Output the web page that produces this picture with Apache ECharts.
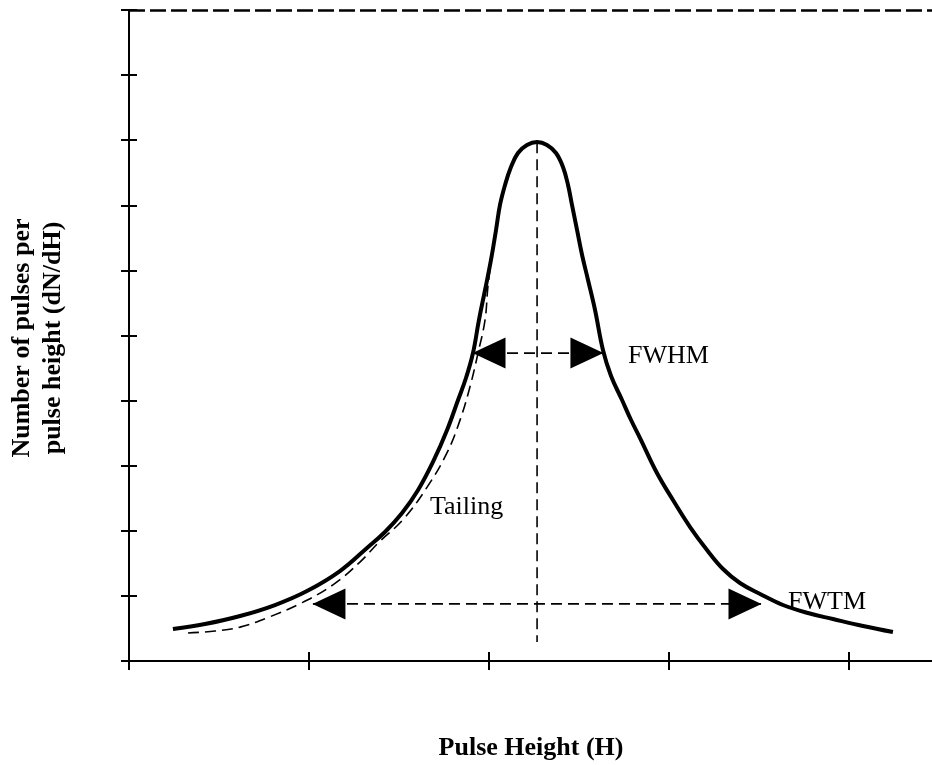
<!DOCTYPE html>
<html>
<head>
<meta charset="utf-8">
<title>Pulse height spectrum</title>
<script src="https://cdn.jsdelivr.net/npm/echarts@6/dist/echarts.min.js"></script>
<style>
  html, body { margin: 0; padding: 0; background: #fff; }
  #chart { width: 932px; height: 765px; }
</style>
</head>
<body>
<div id="chart"></div>
<script>
// Full-energy peak (measured line shape)
const peakH = [0.244, 0.422, 0.617, 0.811, 0.989, 1.172, 1.322, 1.422, 1.517, 1.606, 1.694, 1.767, 1.828,
               1.872, 1.911, 1.944, 1.978, 2.011, 2.039, 2.061, 2.089, 2.122, 2.161, 2.211, 2.267,
               2.322, 2.372, 2.411, 2.439, 2.461, 2.489, 2.517, 2.550, 2.589, 2.633, 2.678, 2.739,
               2.789, 2.839, 2.933, 3.022, 3.117, 3.211, 3.300, 3.394, 3.506, 3.633, 3.772, 3.911,
               4.078, 4.244];
const peakN = [0.492, 0.568, 0.691, 0.860, 1.075, 1.382, 1.736, 1.982, 2.273, 2.627, 3.088, 3.548, 4.009,
               4.347, 4.731, 5.238, 5.699, 6.160, 6.621, 7.005, 7.312, 7.588, 7.803, 7.926, 7.972,
               7.926, 7.803, 7.588, 7.312, 7.005, 6.621, 6.237, 5.853, 5.392, 4.777, 4.378, 4.009,
               3.702, 3.425, 2.888, 2.473, 2.058, 1.705, 1.413, 1.198, 1.029, 0.860, 0.737, 0.645,
               0.538, 0.445];

// Low-energy tailing of the peak
const tailH = [0.328, 0.478, 0.617, 0.783, 0.95, 1.133, 1.283, 1.394, 1.522, 1.656, 1.767, 1.839, 1.894,
               1.939, 1.978, 1.994, 2.022];
const tailN = [0.43, 0.46, 0.52, 0.68, 0.88, 1.17, 1.52, 1.84, 2.17, 2.67, 3.20, 3.70, 4.21,
               4.73, 5.24, 5.75, 6.36];

// Peak centroid marker
const centroidH = 2.267;
const centroidN = [7.97, 0.29];

// Width markers: [left edge, right edge] at half and tenth maximum
const fwhmH = [1.911, 2.633];
const fwhmN = 4.73;
const fwtmH = [1.022, 3.511];
const fwtmN = 0.877;

// Axis ticks and extents
const xTicks = [0, 1, 2, 3, 4];
const xMax = 4.461;
const yMax = 10;

const serif = '"Liberation Serif", "Times New Roman", serif';
const dash = [11, 6];

const zip = (xs, ys) => xs.map((x, i) => [x, ys[i]]);

const chart = echarts.init(document.getElementById('chart'), null, { renderer: 'canvas' });

const GRID_W = 932 - 129;
const GRID_H = 765 - 10 - 104;
const X_TICK_HALF = 9;
const Y_TICK_HALF = 8;

function arrowHeads(xs, y) {
  return {
    type: 'scatter',
    silent: true,
    symbol: 'triangle',
    symbolSize: [31, 33],
    itemStyle: { color: '#000', opacity: 1 },
    data: [
      { value: [xs[0], y], symbolRotate: 90, symbolOffset: [16, 0] },
      { value: [xs[1], y], symbolRotate: -90, symbolOffset: [-16, 0] }
    ],
    z: 5
  };
}

const option = {
  backgroundColor: '#fff',
  animation: false,
  grid: { left: 129, right: 0, top: 10, bottom: 104, containLabel: false },
  xAxis: [
    {
      type: 'value', position: 'bottom', min: 0, max: xMax,
      axisLine: { show: true, onZero: false, lineStyle: { color: '#000', width: 2 } },
      axisTick: { show: false },
      axisLabel: { show: false }, splitLine: { show: false }
    },
    {
      // tick marks crossing the baseline: a hidden axis just below it with upward ticks
      type: 'value', position: 'top', offset: -(GRID_H + X_TICK_HALF), min: 0, max: xMax,
      axisLine: { show: true, onZero: false, lineStyle: { color: 'rgba(0,0,0,0)', width: 1 } },
      axisTick: { show: true, inside: false, length: 2 * X_TICK_HALF, customValues: xTicks,
                  lineStyle: { color: '#000', width: 2 } },
      axisLabel: { show: false }, splitLine: { show: false }
    }
  ],
  yAxis: [
    {
      type: 'value', position: 'left', min: 0, max: yMax, interval: 1,
      axisLine: { show: true, onZero: false, lineStyle: { color: '#000', width: 2 } },
      axisTick: { show: false },
      axisLabel: { show: false }, splitLine: { show: false }
    },
    {
      // tick marks crossing the vertical axis: a hidden axis just left of it with rightward ticks
      type: 'value', position: 'right', offset: -(GRID_W + Y_TICK_HALF), min: 0, max: yMax, interval: 1,
      axisLine: { show: true, onZero: false, lineStyle: { color: 'rgba(0,0,0,0)', width: 1 } },
      axisTick: { show: true, inside: false, length: 2 * Y_TICK_HALF, lineStyle: { color: '#000', width: 2 } },
      axisLabel: { show: false }, splitLine: { show: false }
    }
  ],
  series: [
    {
      name: 'Peak', type: 'line',
      data: zip(peakH, peakN), smooth: 0.4, showSymbol: false, silent: true,
      lineStyle: { color: '#000', width: 4 }, z: 4,
      markLine: {
        silent: true, symbol: 'none', label: { show: false },
        lineStyle: { color: '#000', width: 2.5, type: [16, 5] },
        data: [{ yAxis: yMax }]
      }
    },
    {
      name: 'Tailing', type: 'line', xAxisIndex: 1, yAxisIndex: 1,
      data: zip(tailH, tailN), smooth: 0.4, showSymbol: false, silent: true,
      lineStyle: { color: '#000', width: 1.6, type: dash }, z: 3
    },
    {
      name: 'Centroid', type: 'line',
      data: centroidN.map(n => [centroidH, n]), showSymbol: false, silent: true,
      lineStyle: { color: '#000', width: 1.6, type: dash }, z: 3
    },
    {
      name: 'FWHM', type: 'line',
      data: fwhmH.map(h => [h, fwhmN]), showSymbol: false, silent: true,
      lineStyle: { color: '#000', width: 1.6, type: dash }, z: 3
    },
    {
      name: 'FWTM', type: 'line',
      data: fwtmH.map(h => [h, fwtmN]), showSymbol: false, silent: true,
      lineStyle: { color: '#000', width: 1.6, type: dash }, z: 3
    },
    arrowHeads(fwhmH, fwhmN),
    arrowHeads(fwtmH, fwtmN)
  ],
  graphic: [
    { type: 'text', left: 628, top: 343, style: { text: 'FWHM', font: '26px ' + serif, fill: '#000' } },
    { type: 'text', left: 430, top: 494, style: { text: 'Tailing', font: '26px ' + serif, fill: '#000' } },
    { type: 'text', left: 788, top: 589, z: 10, style: { text: 'FWTM', font: '26px ' + serif, fill: '#000' } },
    { type: 'text', x: 531, y: 748, style: { text: 'Pulse Height (H)', font: 'bold 26px ' + serif, fill: '#000', align: 'center', verticalAlign: 'middle' } },
    { type: 'text', x: 22, y: 338, rotation: Math.PI / 2, style: { text: 'Number of pulses per', font: 'bold 26px ' + serif, fill: '#000', align: 'center', verticalAlign: 'middle' } },
    { type: 'text', x: 53, y: 338, rotation: Math.PI / 2, style: { text: 'pulse height (dN/dH)', font: 'bold 26px ' + serif, fill: '#000', align: 'center', verticalAlign: 'middle' } }
  ]
};

chart.setOption(option);
</script>
</body>
</html>
